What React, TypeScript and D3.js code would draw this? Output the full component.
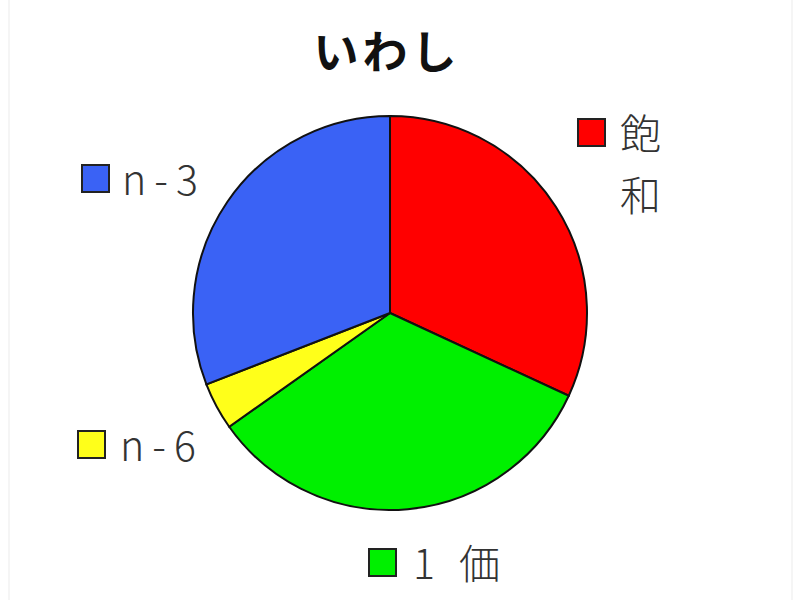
import React from 'react';
import * as d3 from 'd3';

// fatty acid composition of sardine (%)
const categories = ['飽和', '1価', 'n-6', 'n-3'];
const shares = [31.9, 33.3, 3.9, 30.9];
const colors = ['#ff0000', '#00f000', '#ffff1a', '#3a62f5'];
const legendLines = [['飽', '和'], ['1価'], ['n-6'], ['n-3']];

const W = 800;
const H = 600;
const cx = 390;
const cy = 313;
const radius = 197;

// where each legend entry sits (square top-left) and how its label is spaced
const legendPos = [
  { x: 578, y: 119, dx: 42, spacing: 6 },
  { x: 369, y: 549, dx: 44, spacing: 24 },
  { x: 78, y: 431, dx: 42, spacing: 8 },
  { x: 82, y: 165, dx: 40, spacing: 8 },
];

type Slice = { name: string; value: number; color: string };

const App = () => {
  const data: Slice[] = categories.map((name, i) => ({ name, value: shares[i], color: colors[i] }));

  const pie = d3.pie<Slice>()
    .sort(null)
    .value(d => d.value);

  const arc = d3.arc<d3.PieArcDatum<Slice>>()
    .innerRadius(0)
    .outerRadius(radius);

  const arcs = pie(data);
  const textFont = '"Noto Sans CJK JP", "DejaVu Sans", sans-serif';

  return (
    <svg width={W} height={H} style={{ position: 'absolute', left: 0, top: 0, background: '#fff' }}>
      <line x1={9} y1={0} x2={9} y2={H} stroke="#f2f2f2" strokeWidth={1.5} />
      <line x1={792} y1={0} x2={792} y2={H} stroke="#f2f2f2" strokeWidth={1.5} />

      <text x={387} y={69} textAnchor="middle" fontFamily={textFont} fontWeight={700} fontSize={45} letterSpacing={4} fill="#111">
        いわし
      </text>

      <g transform={`translate(${cx}, ${cy})`}>
        {arcs.map((a, i) => (
          <path key={i} d={arc(a) ?? ''} fill={a.data.color} stroke="#111" strokeWidth={2} />
        ))}
      </g>

      {data.map((d, i) => {
        const p = legendPos[i];
        return (
          <g key={d.name}>
            <rect x={p.x} y={p.y} width={27} height={27} fill={d.color} stroke="#222" strokeWidth={2} />
            {legendLines[i].map((line, j) => (
              <text
                key={j}
                x={p.x + p.dx}
                y={p.y + 30 + j * 62}
                fontFamily={textFont}
                fontWeight={300}
                fontSize={41}
                letterSpacing={p.spacing}
                fill="#333"
              >
                {line}
              </text>
            ))}
          </g>
        );
      })}
    </svg>
  );
};

export default App;
